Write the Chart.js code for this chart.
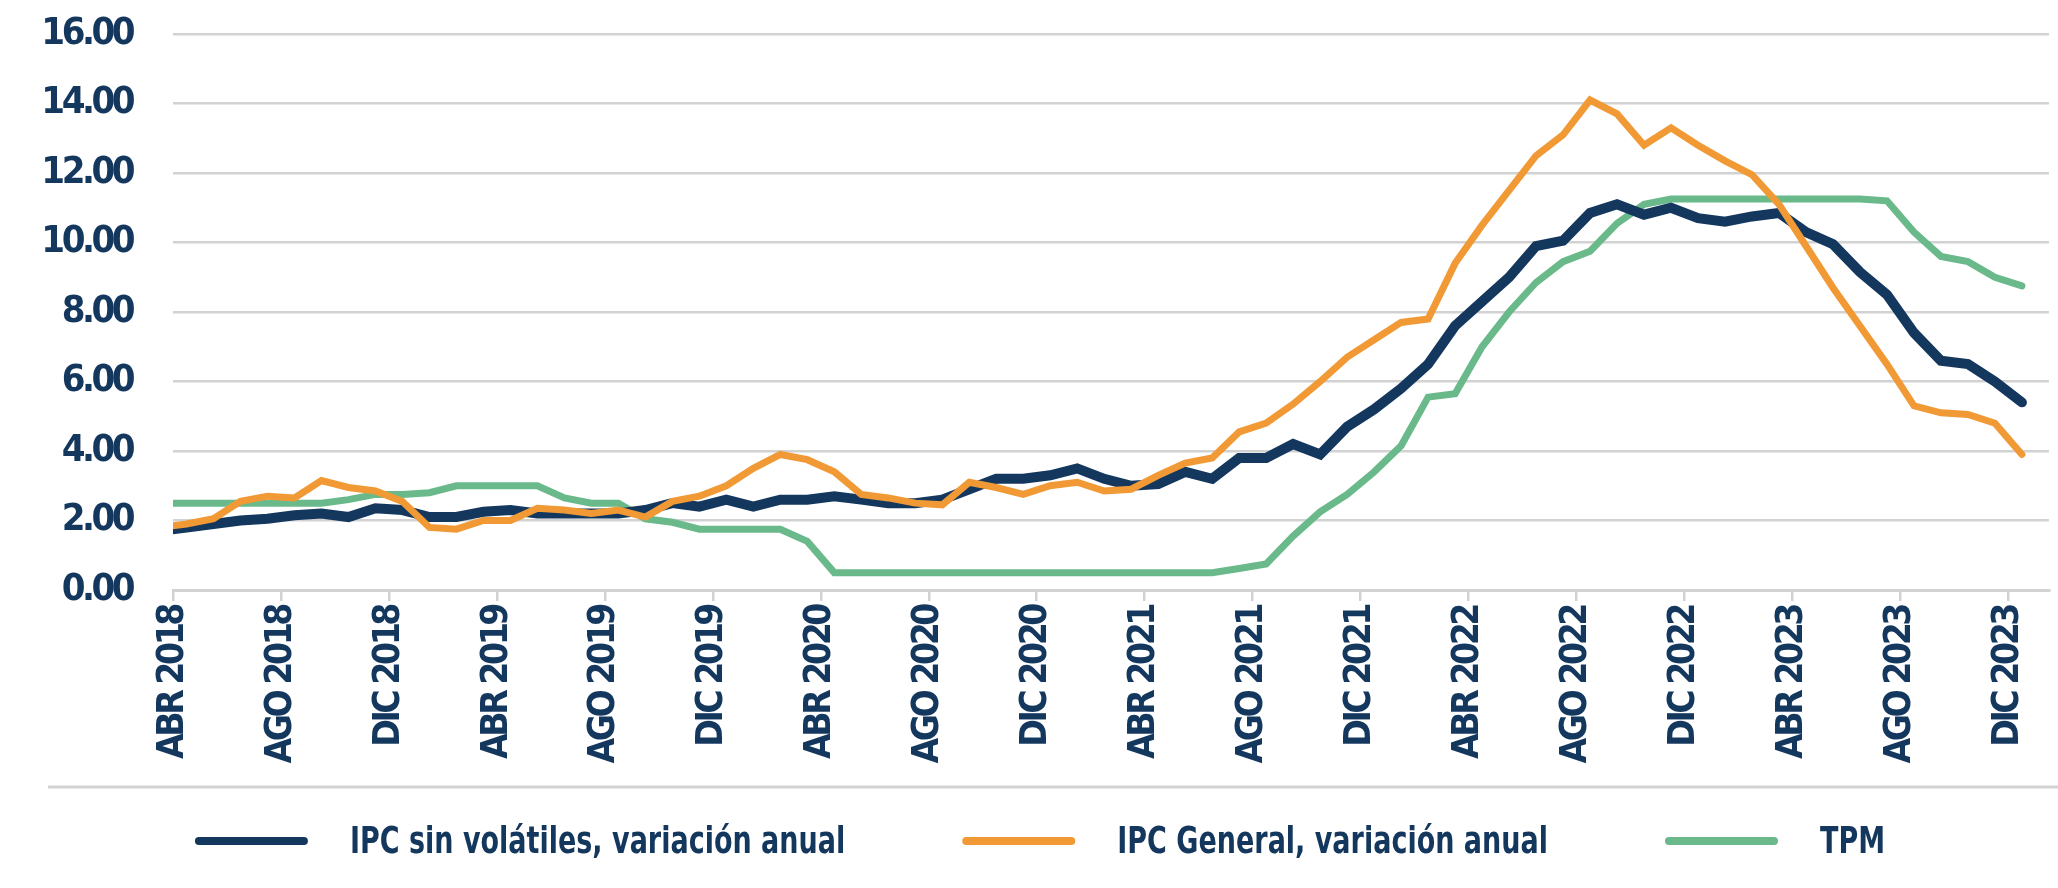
<!DOCTYPE html>
<html lang="es">
<head>
<meta charset="utf-8">
<title>IPC y TPM</title>
<script src="https://cdn.jsdelivr.net/npm/chart.js@4.4.1/dist/chart.umd.min.js"></script>
<style>
  html, body { margin: 0; padding: 0; background: #ffffff; }
  #grafico { display: block; }
</style>
</head>
<body>
<canvas id="grafico" width="2058" height="888"></canvas>
<script>
// Meses (datos a mitad de mes; MAR 2018 queda recortado por el borde izquierdo)
const meses = [
    'MAR 2018', 'ABR 2018', 'MAY 2018', 'JUN 2018', 'JUL 2018', 'AGO 2018', 'SEP 2018', 'OCT 2018', 'NOV 2018', 'DIC 2018',
    'ENE 2019', 'FEB 2019', 'MAR 2019', 'ABR 2019', 'MAY 2019', 'JUN 2019', 'JUL 2019', 'AGO 2019', 'SEP 2019', 'OCT 2019', 'NOV 2019', 'DIC 2019',
    'ENE 2020', 'FEB 2020', 'MAR 2020', 'ABR 2020', 'MAY 2020', 'JUN 2020', 'JUL 2020', 'AGO 2020', 'SEP 2020', 'OCT 2020', 'NOV 2020', 'DIC 2020',
    'ENE 2021', 'FEB 2021', 'MAR 2021', 'ABR 2021', 'MAY 2021', 'JUN 2021', 'JUL 2021', 'AGO 2021', 'SEP 2021', 'OCT 2021', 'NOV 2021', 'DIC 2021',
    'ENE 2022', 'FEB 2022', 'MAR 2022', 'ABR 2022', 'MAY 2022', 'JUN 2022', 'JUL 2022', 'AGO 2022', 'SEP 2022', 'OCT 2022', 'NOV 2022', 'DIC 2022',
    'ENE 2023', 'FEB 2023', 'MAR 2023', 'ABR 2023', 'MAY 2023', 'JUN 2023', 'JUL 2023', 'AGO 2023', 'SEP 2023', 'OCT 2023', 'NOV 2023', 'DIC 2023'
];

// IPC sin volátiles, variación anual (%)
const ipcSinVolatiles = [
    1.7, 1.8, 1.9, 2.0, 2.05, 2.15, 2.2, 2.1, 2.35, 2.3,
    2.1, 2.1, 2.25, 2.3, 2.2, 2.2, 2.2, 2.2, 2.3, 2.5, 2.4, 2.6,
    2.4, 2.6, 2.6, 2.7, 2.6, 2.5, 2.5, 2.6, 2.9, 3.2, 3.2, 3.3,
    3.5, 3.2, 3.0, 3.05, 3.4, 3.2, 3.8, 3.8, 4.2, 3.9, 4.7, 5.2,
    5.8, 6.5, 7.6, 8.3, 9.0, 9.9, 10.05, 10.85, 11.1, 10.8, 11.0, 10.7,
    10.6, 10.75, 10.85, 10.3, 9.95, 9.15, 8.5, 7.4, 6.6, 6.5, 6.0, 5.4
];

// IPC General, variación anual (%)
const ipcGeneral = [
    1.8, 1.9, 2.05, 2.55, 2.7, 2.65, 3.15, 2.95, 2.85, 2.55,
    1.8, 1.75, 2.0, 2.0, 2.35, 2.3, 2.2, 2.3, 2.1, 2.55, 2.7, 3.0,
    3.5, 3.9, 3.75, 3.4, 2.75, 2.65, 2.5, 2.45, 3.1, 2.95, 2.75, 3.0,
    3.1, 2.85, 2.9, 3.3, 3.65, 3.8, 4.55, 4.8, 5.35, 6.0, 6.7, 7.2,
    7.7, 7.8, 9.4, 10.5, 11.5, 12.5, 13.1, 14.1, 13.7, 12.8, 13.3, 12.8,
    12.35, 11.95, 11.1, 9.9, 8.7, 7.6, 6.5, 5.3, 5.1, 5.05, 4.8, 3.9
];

// TPM (%)
const tpm = [
    2.5, 2.5, 2.5, 2.5, 2.5, 2.5, 2.5, 2.6, 2.75, 2.75,
    2.8, 3.0, 3.0, 3.0, 3.0, 2.65, 2.5, 2.5, 2.05, 1.95, 1.75, 1.75,
    1.75, 1.75, 1.4, 0.5, 0.5, 0.5, 0.5, 0.5, 0.5, 0.5, 0.5, 0.5,
    0.5, 0.5, 0.5, 0.5, 0.5, 0.5, 0.62, 0.75, 1.55, 2.25, 2.75, 3.4,
    4.15, 5.55, 5.65, 7.0, 8.0, 8.85, 9.45, 9.75, 10.55, 11.1, 11.25, 11.25,
    11.25, 11.25, 11.25, 11.25, 11.25, 11.25, 11.2, 10.3, 9.6, 9.45, 9.0, 8.75
];

// Etiquetas del eje X (cada 4 meses)
const etiquetasEje = [
    'ABR 2018', 'AGO 2018', 'DIC 2018', 'ABR 2019', 'AGO 2019', 'DIC 2019',
    'ABR 2020', 'AGO 2020', 'DIC 2020', 'ABR 2021', 'AGO 2021', 'DIC 2021',
    'ABR 2022', 'AGO 2022', 'DIC 2022', 'ABR 2023', 'AGO 2023', 'DIC 2023'
];

const AZUL = '#14375e';
const NARANJA = '#f19a35';
const VERDE = '#69b98a';
const GRIS = '#d2d2d2';
const FUENTE_ANGOSTA = '"Liberation Sans Narrow", "Arial Narrow", "DejaVu Sans Condensed", sans-serif';

// cada mes se ubica a mitad de mes; el tick marca el inicio del mes
const puntos = (serie) => serie.map((v, i) => ({ x: i - 0.5, y: v }));
const posicionesTicks = etiquetasEje.map((e) => meses.indexOf(e) - 1);

const serieBase = {
    pointRadius: 0,
    pointHoverRadius: 0,
    tension: 0,
    fill: false,
    borderCapStyle: 'round',
    borderJoinStyle: 'miter',
    clip: { left: 0, top: false, right: false, bottom: false }
};

// Texto más apretado, como en la tipografía angosta del original
const espaciado = {
    id: 'espaciado',
    beforeDraw(chart) {
        chart.ctx.letterSpacing = '-3.5px';
    }
};

// Leyenda dibujada bajo el gráfico, con separador
const leyendaInferior = {
    id: 'leyendaInferior',
    afterDraw(chart) {
        const ctx = chart.ctx;
        ctx.save();
        ctx.letterSpacing = '0px';
        ctx.strokeStyle = GRIS;
        ctx.lineWidth = 3;
        ctx.beginPath();
        ctx.moveTo(48, 787);
        ctx.lineTo(chart.width, 787);
        ctx.stroke();

        const compresion = 0.79;
        ctx.font = 'bold 38px ' + FUENTE_ANGOSTA;
        const items = chart.data.datasets.map((ds) => ({
            texto: ds.label,
            color: ds.borderColor,
            ancho: ctx.measureText(ds.label).width * compresion
        }));
        const largoLinea = 113, hueco = 42, separacion = 117;
        const total = items.reduce((s, it) => s + largoLinea + hueco + it.ancho, 0) + separacion * (items.length - 1);
        let x = 1040 - total / 2;
        const y = 841;
        ctx.textBaseline = 'middle';
        ctx.textAlign = 'left';
        items.forEach((it) => {
            ctx.strokeStyle = it.color;
            ctx.lineWidth = 8;
            ctx.lineCap = 'round';
            ctx.beginPath();
            ctx.moveTo(x + 4, y);
            ctx.lineTo(x + largoLinea - 4, y);
            ctx.stroke();
            ctx.save();
            ctx.translate(x + largoLinea + hueco, y + 2);
            ctx.scale(compresion, 1);
            ctx.fillStyle = AZUL;
            ctx.fillText(it.texto, 0, 0);
            ctx.restore();
            x += largoLinea + hueco + it.ancho + separacion;
        });
        ctx.restore();
    }
};

new Chart(document.getElementById('grafico').getContext('2d'), {
    type: 'line',
    data: {
        datasets: [
            Object.assign({ label: 'IPC sin volátiles, variación anual', data: puntos(ipcSinVolatiles), borderColor: AZUL, borderWidth: 10, order: 1 }, serieBase),
            Object.assign({ label: 'IPC General, variación anual', data: puntos(ipcGeneral), borderColor: NARANJA, borderWidth: 7, order: 0 }, serieBase),
            Object.assign({ label: 'TPM', data: puntos(tpm), borderColor: VERDE, borderWidth: 7, order: 2 }, serieBase)
        ]
    },
    options: {
        responsive: false,
        devicePixelRatio: 1,
        animation: false,
        layout: { padding: { top: 34, right: 8, bottom: 100, left: 0 } },
        plugins: {
            legend: { display: false },
            tooltip: { enabled: false }
        },
        scales: {
            x: {
                type: 'linear',
                min: 0,
                max: 69.5,
                afterBuildTicks: (scale) => {
                    scale.ticks = posicionesTicks.map((v) => ({ value: v }));
                },
                afterFit: (scale) => { scale.height = 198; },
                grid: { drawOnChartArea: false, drawTicks: true, tickLength: 11, color: GRIS, lineWidth: 2.5 },
                border: { display: true, color: GRIS, width: 3 },
                ticks: {
                    autoSkip: false,
                    minRotation: 90,
                    maxRotation: 90,
                    padding: 5,
                    color: AZUL,
                    font: { family: FUENTE_ANGOSTA, size: 37, weight: 'bold' },
                    callback: (v) => {
                        const i = posicionesTicks.indexOf(v);
                        return i >= 0 ? etiquetasEje[i] : '';
                    }
                }
            },
            y: {
                min: 0,
                max: 16,
                afterFit: (scale) => {
                    scale.width = 173;
                    scale.paddingTop = 0;
                    scale.paddingBottom = 0;
                },
                grid: { drawTicks: false, color: GRIS, lineWidth: 2.5 },
                border: { display: false },
                ticks: {
                    stepSize: 2,
                    padding: 41,
                    color: AZUL,
                    font: { family: FUENTE_ANGOSTA, size: 38, weight: 'bold', lineHeight: 1 },
                    callback: (v) => v.toFixed(2)
                }
            }
        }
    },
    plugins: [espaciado, leyendaInferior]
});
</script>
</body>
</html>
